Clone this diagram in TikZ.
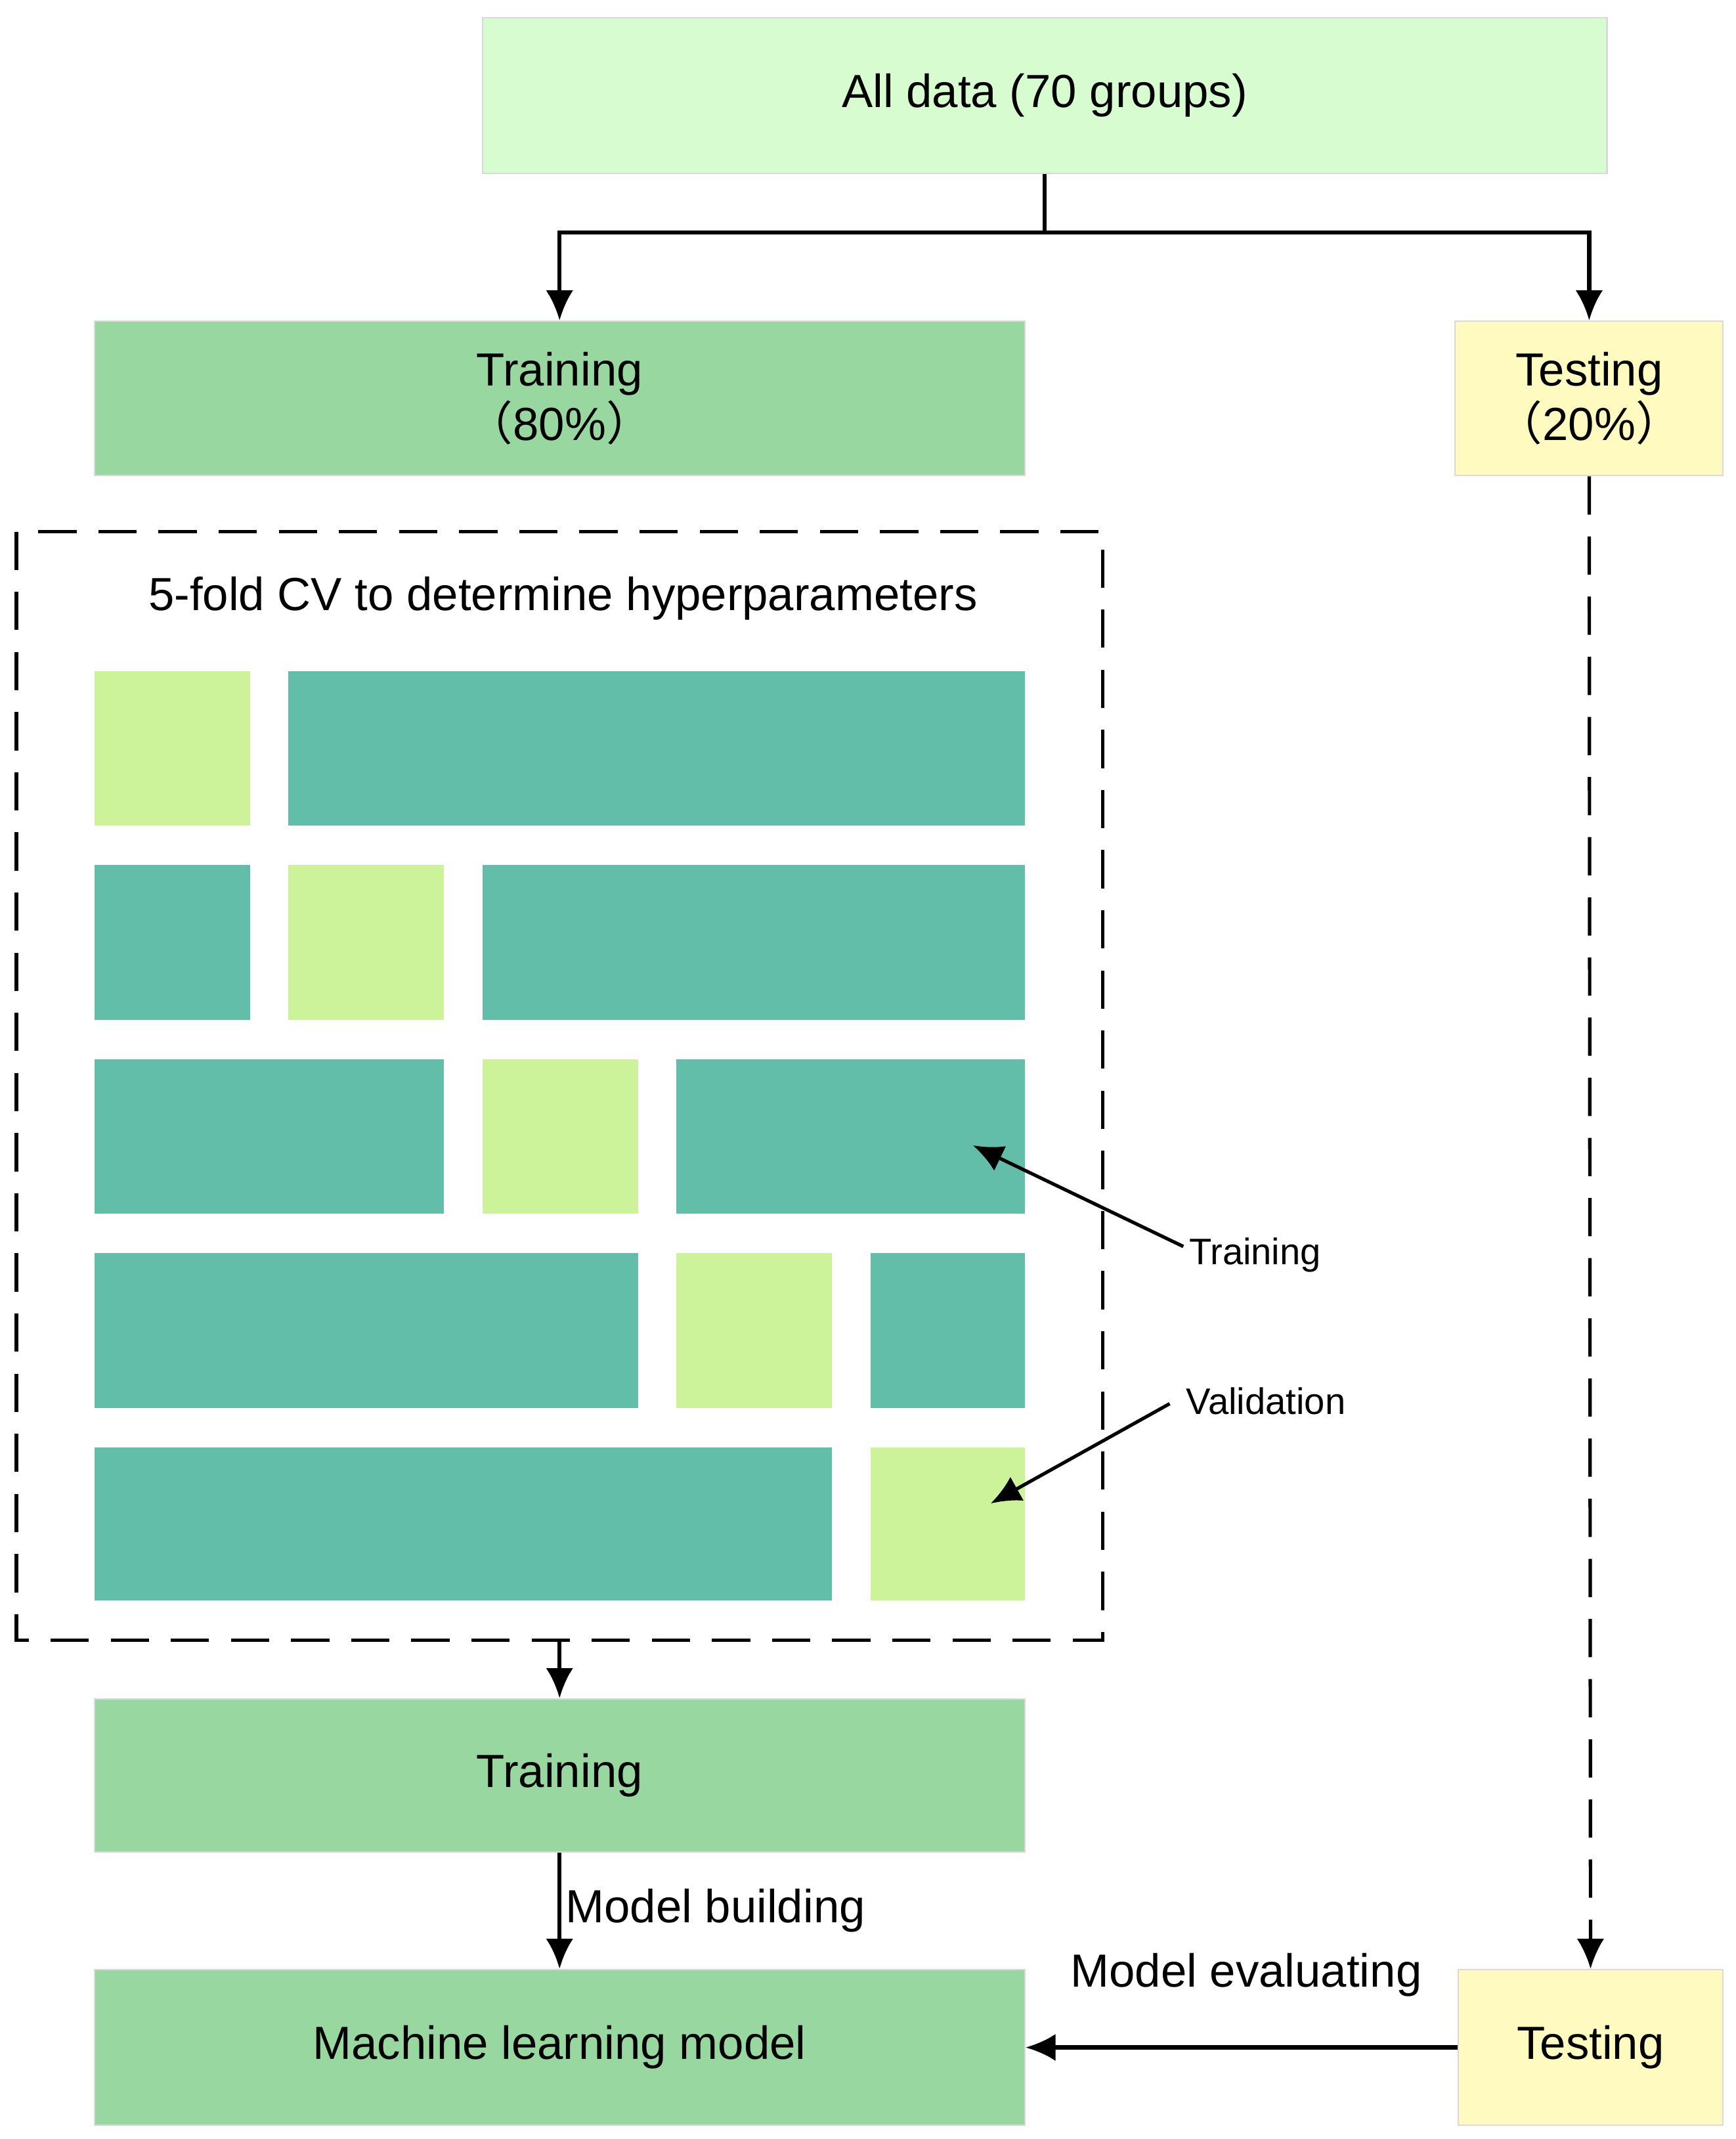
\documentclass[tikz,border=0pt]{standalone}
\usepackage{fontspec}
\setmainfont{Liberation Sans}
\newfontfamily\cjk{Noto Sans CJK SC}
\usetikzlibrary{arrows.meta}
\definecolor{alld}{HTML}{D6FCD0}
\definecolor{trn}{HTML}{98D8A0}
\definecolor{tst}{HTML}{FFFBC0}
\definecolor{teal}{HTML}{62BEA8}
\definecolor{val}{HTML}{CCF29A}
\begin{document}
\begin{tikzpicture}[x=1pt,y=-1pt,
  box/.style={draw=black!15,line width=1pt,inner sep=0pt,font=\fontsize{34}{40}\selectfont,align=center},
  cell/.style={draw=black!12,line width=1pt},
  arr/.style={line width=3pt,-{Latex[length=22pt,width=20pt]}},
  dsh/.style={line width=2.5pt,dash pattern=on 28pt off 16pt},
  small/.style={font=\fontsize{27}{32}\selectfont}]
\useasboundingbox (0,0) rectangle (1270,1565);
\node[box,fill=alld,minimum width=823pt,minimum height=114pt] (all) at (764.5,70) {All data (70 groups)};
\node[box,fill=trn,minimum width=681pt,minimum height=113pt] (tr) at (409.5,291.5) {Training\\{\cjk （}80\%{\cjk ）}};
\node[box,fill=tst,minimum width=196pt,minimum height=113pt] (te) at (1163,291.5) {Testing\\{\cjk （}20\%{\cjk ）}};
\coordinate (j) at (764.5,170);
\draw[line width=3pt] (all.south) -- (j);
\draw[arr] (j) -| (tr.north);
\draw[arr] (j) -| (te.north);
% CV box
\draw[dsh] (12,389) rectangle (807,1200);
\node[font=\fontsize{34}{40}\selectfont] (cvt) at (412,438) {5-fold CV to determine hyperparameters};
\foreach \ya/\yb in {491/604,633/746,775/888,917/1030,1059/1171}{}
% row1
\fill[val] (69,491) rectangle (183,604); \fill[teal] (211,491) rectangle (750,604);
% row2
\fill[teal] (69,633) rectangle (183,746); \fill[val] (211,633) rectangle (325,746); \fill[teal] (353,633) rectangle (750,746);
% row3
\fill[teal] (69,775) rectangle (325,888); \fill[val] (353,775) rectangle (467,888); \fill[teal] (495,775) rectangle (750,888);
\coordinate (t3) at (712,838);
% row4
\fill[teal] (69,917) rectangle (467,1030); \fill[val] (495,917) rectangle (609,1030); \fill[teal] (637,917) rectangle (750,1030);
% row5
\fill[teal] (69,1059) rectangle (609,1171); \fill[val] (637,1059) rectangle (750,1171);
\coordinate (v5) at (725,1100);
\node[small,anchor=west,inner sep=0pt] (lt) at (870,918) {Training};
\node[small,anchor=west,inner sep=0pt] (lv) at (868,1025) {Validation};
\draw[arr,line width=2.5pt] (866,912) -- (t3);
\draw[arr,line width=2.5pt] (856,1027) -- (v5);
% lower
\node[box,fill=trn,minimum width=681pt,minimum height=112pt] (tr2) at (409.5,1299) {Training};
\coordinate (cvb) at (409.5,1200);
\draw[arr] (cvb) -- (tr2.north);
\node[box,fill=trn,minimum width=681pt,minimum height=114pt] (ml) at (409.5,1498) {Machine learning model};
\draw[arr] (tr2.south) -- node[right,font=\fontsize{34}{40}\selectfont,inner sep=3pt] {Model building} (ml.north);
\node[box,fill=tst,minimum width=194pt,minimum height=114pt] (te2) at (1164,1498) {Testing};
\draw[dsh,-{Latex[length=22pt,width=20pt]}] (te.south) -- (te2.north);
\draw[arr] (te2.west) -- (ml.east);
\node[font=\fontsize{34}{40}\selectfont] (me) at (912,1445) {Model evaluating};
\end{tikzpicture}
\end{document}
